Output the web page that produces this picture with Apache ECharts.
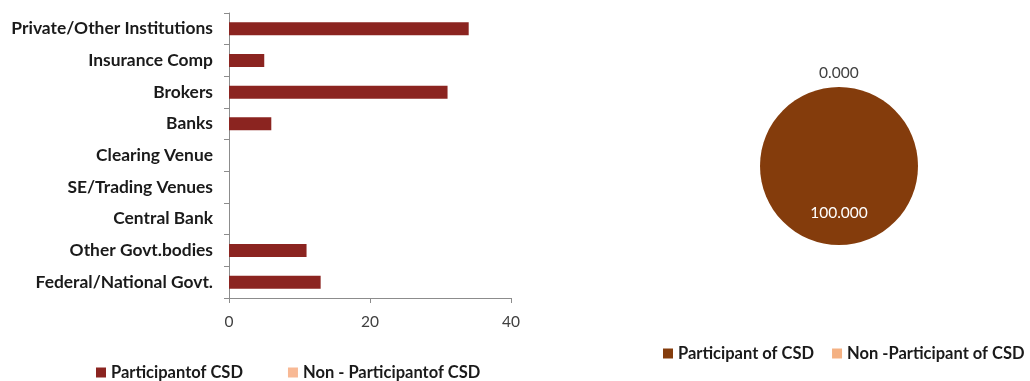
<!DOCTYPE html>
<html><head><meta charset="utf-8">
<script src="https://cdn.jsdelivr.net/npm/echarts@6/dist/echarts.min.js"></script>
<style>html,body{margin:0;padding:0;background:#fff}#c{width:1030px;height:381px}</style>
</head><body><div id="c"></div>
<script>
const categories = ["Private/Other Institutions","Insurance Comp","Brokers","Banks","Clearing Venue","SE/Trading Venues","Central Bank","Other Govt.bodies","Federal/National Govt."];
const participantValues = [34, 5, 31, 6, 0, 0, 0, 11, 13];
const nonParticipantValues = [0, 0, 0, 0, 0, 0, 0, 0, 0];
const barSeriesNames = ["Participantof CSD", "Non - Participantof CSD"];
const pieNames = ["Participant of CSD", "Non -Participant of CSD"];
const pieValues = [100.000, 0.000];

const font = "Lato, 'Open Sans', sans-serif";
const chart = echarts.init(document.getElementById('c'));
chart.setOption({
  animation: false,
  textStyle: { fontFamily: font },
  grid: { left: 229, right: 519, top: 13, bottom: 83, containLabel: false },
  xAxis: {
    type: 'value', min: 0, max: 40, interval: 20,
    splitLine: { show: false },
    axisLine: { show: true, lineStyle: { color: '#8c8c8c' } },
    axisTick: { show: true, length: 5, lineStyle: { color: '#8c8c8c' } },
    axisLabel: { color: '#404040', fontSize: 15.5, margin: 16, fontFamily: font }
  },
  yAxis: {
    type: 'category', data: categories, inverse: true,
    axisLine: { show: true, lineStyle: { color: '#8c8c8c' } },
    axisTick: { show: true, length: 5, lineStyle: { color: '#8c8c8c' } },
    axisLabel: { color: '#1a1a1a', fontSize: 17.4, fontWeight: 'bold', margin: 16, fontFamily: font }
  },
  legend: [{
    data: barSeriesNames, left: 91, top: 359, icon: 'rect', itemWidth: 10, itemHeight: 10, itemGap: 45,
    textStyle: { fontSize: 16.5, fontWeight: 'bold', color: '#1a1a1a', fontFamily: font }
  }, {
    data: pieNames, left: 658, top: 340, icon: 'rect', itemWidth: 10, itemHeight: 10, itemGap: 18,
    textStyle: { fontSize: 16.5, fontWeight: 'bold', color: '#1a1a1a', fontFamily: font }
  }],
  series: [{
    type: 'bar', name: barSeriesNames[0], data: participantValues,
    barWidth: 13, barGap: '-100%', itemStyle: { color: '#8b2420' }
  }, {
    type: 'bar', name: barSeriesNames[1], data: nonParticipantValues,
    barWidth: 13, itemStyle: { color: '#f8b995' }
  }, {
    type: 'pie', center: [839, 166], radius: 79, startAngle: 90, clockwise: true,
    minAngle: 0, stillShowZeroSum: true,
    data: [
      { name: pieNames[0], value: pieValues[0], itemStyle: { color: '#843c0c' },
        label: { position: 'inside', color: '#ffffff', fontSize: 15.5, offset: [0, 4] } },
      { name: pieNames[1], value: pieValues[1], itemStyle: { color: '#f4b183' },
        label: { position: 'outside', color: '#404040', fontSize: 15.5, distanceToLabelLine: 0, offset: [-20, -6] },
        labelLine: { show: false, length: 8, length2: 0 } }
    ],
    label: { formatter: p => p.value.toFixed(3), fontFamily: font },
    labelLine: { show: false }
  }]
});
</script></body></html>
